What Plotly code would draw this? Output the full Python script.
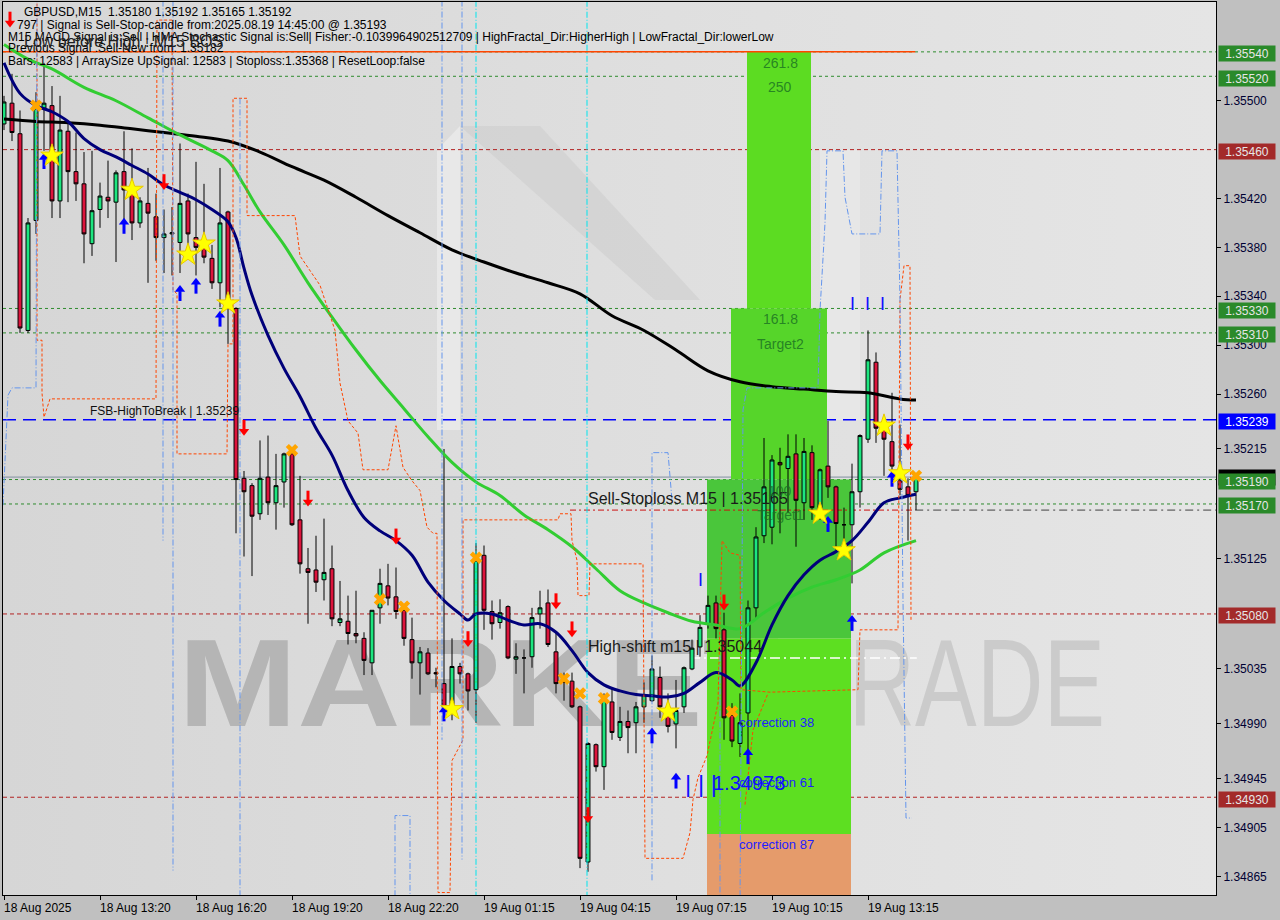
import base64
import plotly.graph_objects as go

# ---------------- data ----------------
TIME_LABELS = ["18 Aug 2025", "18 Aug 13:20", "18 Aug 16:20", "18 Aug 19:20", "18 Aug 22:20",
               "19 Aug 01:15", "19 Aug 04:15", "19 Aug 07:15", "19 Aug 10:15", "19 Aug 13:15"]
TIME_LABEL_BARS = [0, 12, 24, 36, 48, 60, 72, 84, 96, 108]

OPEN = [1.35481,1.35498,1.35473,1.35312,1.35402,1.35494,1.35496,1.35418,1.35475,1.35442,
        1.35432,1.35383,1.35411,1.35421,1.35417,1.35442,1.35427,1.35400,1.35416,1.35405,
        1.35388,1.35391,1.35384,1.35418,1.35388,1.35379,1.35371,1.35351,1.35409,1.35330,
        1.35191,1.35185,1.35162,1.35192,1.35171,1.35188,1.35211,1.35157,1.35117,1.35116,
        1.35108,1.35117,1.35073,1.35074,1.35064,1.35060,1.35040,1.35085,1.35103,1.35094,
        1.35083,1.35059,1.35040,1.35048,1.35032,1.35023,1.35003,1.35037,1.35031,1.35018,
        1.35128,1.35082,1.35073,1.35086,1.35043,1.35044,1.35045,1.35080,1.35089,1.35049,
        1.35029,1.35025,1.35004,1.34877,1.34973,1.34955,1.35008,1.34979,1.34992,1.34991,
        1.35004,1.35009,1.35028,1.35004,1.34990,1.35004,1.35035,1.35053,1.35072,1.35089,
        1.35067,1.34997,1.34974,1.34999,1.35085,1.35144,1.35151,1.35204,1.35199,1.35211,
        1.35171,1.35212,1.35165,1.35201,1.35184,1.35153,1.35153,1.35180,1.35223,1.35286,
        1.35234,1.35221,1.35189,1.35184,1.35180]
HIGH = [1.35504,1.35522,1.35492,1.35404,1.35507,1.35531,1.35512,1.35504,1.35484,1.35474,
        1.35458,1.35459,1.35433,1.35451,1.35443,1.35475,1.35461,1.35421,1.35445,1.35424,
        1.35411,1.35413,1.35465,1.35424,1.35450,1.35432,1.35382,1.35445,1.35410,1.35331,
        1.35197,1.35187,1.35222,1.35226,1.35211,1.35212,1.35212,1.35193,1.35134,1.35144,
        1.35158,1.35136,1.35107,1.35095,1.35099,1.35065,1.35083,1.35117,1.35121,1.35118,
        1.35088,1.35077,1.35053,1.35052,1.35036,1.35215,1.35060,1.35040,1.35032,1.35138,
        1.35136,1.35091,1.35092,1.35087,1.35056,1.35051,1.35085,1.35099,1.35100,1.35065,
        1.35032,1.35032,1.35005,1.34975,1.34974,1.35015,1.35020,1.35004,1.35001,1.35008,
        1.35024,1.35046,1.35037,1.35015,1.35026,1.35037,1.35059,1.35079,1.35095,1.35095,
        1.35081,1.35007,1.35015,1.35091,1.35151,1.35224,1.35210,1.35216,1.35227,1.35227,
        1.35224,1.35218,1.35199,1.35238,1.35185,1.35167,1.35203,1.35227,1.35312,1.35294,
        1.35240,1.35261,1.35235,1.35191,1.35192]
LOW = [1.35476,1.35467,1.35310,1.35310,1.35391,1.35459,1.35404,1.35404,1.35417,1.35418,
       1.35367,1.35373,1.35396,1.35404,1.35368,1.35402,1.35386,1.35396,1.35351,1.35369,
       1.35359,1.35357,1.35359,1.35382,1.35357,1.35367,1.35346,1.35331,1.35301,1.35146,
       1.35127,1.35111,1.35157,1.35161,1.35149,1.35167,1.35152,1.35113,1.35072,1.35098,
       1.35091,1.35070,1.35070,1.35055,1.35056,1.35030,1.35030,1.35072,1.35087,1.35076,
       1.35054,1.35027,1.35014,1.35030,1.35020,1.34995,1.34993,1.35023,1.35001,1.34991,
       1.35067,1.35059,1.35068,1.35043,1.35031,1.35015,1.35036,1.35068,1.35053,1.35015,
       1.35009,1.35003,1.34872,1.34869,1.34951,1.34936,1.34977,1.34976,1.34966,1.34966,
       1.34991,1.35008,1.34995,1.34983,1.34970,1.34999,1.35034,1.35045,1.35068,1.35060,
       1.34977,1.34971,1.34963,1.34966,1.35076,1.35138,1.35137,1.35146,1.35163,1.35135,
       1.35157,1.35157,1.35157,1.35175,1.35132,1.35132,1.35105,1.35167,1.35220,1.35220,
       1.35193,1.35193,1.35177,1.35140,1.35165]
CLOSE = [1.35499,1.35474,1.35314,1.35400,1.35494,1.35498,1.35418,1.35476,1.35442,1.35432,
         1.35391,1.35410,1.35422,1.35418,1.35441,1.35427,1.35400,1.35418,1.35408,1.35388,
         1.35391,1.35392,1.35416,1.35391,1.35380,1.35372,1.35351,1.35400,1.35337,1.35190,
         1.35180,1.35160,1.35191,1.35171,1.35185,1.35211,1.35153,1.35121,1.35114,1.35106,
         1.35114,1.35076,1.35076,1.35064,1.35062,1.35042,1.35083,1.35105,1.35093,1.35082,
         1.35060,1.35040,1.35049,1.35031,1.35031,1.35004,1.35037,1.35031,1.35017,1.35124,
         1.35083,1.35072,1.35081,1.35044,1.35045,1.35044,1.35077,1.35085,1.35055,1.35023,
         1.35024,1.35004,1.34880,1.34974,1.34955,1.35011,1.34983,1.34992,1.34987,1.35004,
         1.35014,1.35035,1.35004,1.34988,1.35001,1.35036,1.35052,1.35069,1.35087,1.35068,
         1.34995,1.34976,1.34991,1.35085,1.35143,1.35184,1.35206,1.35202,1.35209,1.35173,
         1.35213,1.35167,1.35198,1.35184,1.35154,1.35153,1.35180,1.35226,1.35288,1.35232,
         1.35223,1.35201,1.35182,1.35177,1.35192]

# moving averages (read at selected bars)
MA_SLOW_BARS = [0,4,8,12,16,20,24,28,32,36,40,44,48,52,56,60,64,68,72,76,80,84,88,92,96,100,104,108,112,114]
MA_SLOW = [1.35485,1.35483,1.35482,1.35480,1.35477,1.35474,1.35471,1.35467,1.35458,1.35446,
           1.35435,1.35421,1.35406,1.35392,1.35378,1.35368,1.35359,1.35351,1.35342,1.35324,
           1.35312,1.35296,1.35279,1.35270,1.35266,1.35264,1.35262,1.35261,1.35256,1.35255]
MA_FAST_BARS = [0,2,4,6,8,10,12,14,16,18,20,22,24,26,28,29,30,31,33,35,37,39,41,43,45,47,49,51,53,55,
                57,58,59,61,63,65,67,69,71,73,75,77,79,81,83,85,87,89,91,92,94,96,98,100,102,104,106,108,110,112,114]
MA_FAST = [1.35531,1.35506,1.35496,1.35491,1.35483,1.35469,1.35460,1.35454,1.35447,1.35440,
           1.35431,1.35425,1.35419,1.35411,1.35401,1.35388,1.35363,1.35341,1.35308,1.35281,
           1.35258,1.35232,1.35210,1.35181,1.35159,1.35148,1.35140,1.35128,1.35106,1.35091,
           1.35080,1.35075,1.35080,1.35080,1.35075,1.35071,1.35072,1.35065,1.35050,1.35032,
           1.35022,1.35017,1.35014,1.35013,1.35012,1.35015,1.35024,1.35032,1.35026,1.35021,
           1.35040,1.35071,1.35095,1.35112,1.35124,1.35131,1.35140,1.35155,1.35171,1.35175,1.35178]
MA_MID_BARS = [0,3,6,10,14,18,22,26,28,30,32,35,38,41,44,47,50,53,56,59,62,65,68,71,74,77,80,83,86,89,
               92,95,98,101,104,107,110,114]
MA_MID = [1.35546,1.35534,1.35526,1.35511,1.35500,1.35486,1.35472,1.35459,1.35451,1.35431,
          1.35409,1.35382,1.35351,1.35323,1.35296,1.35271,1.35248,1.35225,1.35204,1.35188,
          1.35177,1.35161,1.35149,1.35135,1.35117,1.35099,1.35089,1.35081,1.35074,1.35071,
          1.35068,1.35081,1.35093,1.35102,1.35108,1.35116,1.35130,1.35140]

# fractal channel (stepped dashed lines)
ORANGE_BARS = [4.125,4.125,4.75,4.75,5.0,5.75,19.0,19.125,21.0,21.125,21.625,21.625,27.875,28.0,28.625,28.625,
               30.375,30.375,36.375,37.0,39.5,41.375,42.0,43.0,44.25,44.875,48.0,49.0,49.875,51.0,52.0,52.875,
               53.625,54.125,54.25,55.75,56.0,57.375,57.375,59.25,69.25,69.5,70.875,71.0,71.625,71.75,73.125,
               73.25,79.875,80.125,84.875,85.75,86.125,86.75,87.875,89.25,89.75,90.75,92.0,92.125,95.75,
               106.75,107.0,111.75,112.0,112.5,113.25,113.375]
ORANGE_PRICES = [1.35600,1.35304,1.35304,1.35261,1.35241,1.35256,1.35256,1.35566,1.35566,1.35345,1.35342,
                 1.35211,1.35211,1.35301,1.35301,1.35502,1.35502,1.35406,1.35406,1.35373,1.35349,1.35312,
                 1.35269,1.35238,1.35228,1.35198,1.35198,1.35234,1.35200,1.35189,1.35181,1.35151,1.35146,
                 1.35146,1.34852,1.34852,1.34960,1.34977,1.35157,1.35157,1.35157,1.35162,1.35162,1.35140,
                 1.35124,1.35095,1.35095,1.35121,1.35121,1.34880,1.34880,1.34901,1.34928,1.34946,1.34964,
                 1.35007,1.35140,1.35130,1.35128,1.35018,1.35016,1.35018,1.35067,1.35067,1.35337,1.35365,
                 1.35365,1.35075]
ORANGE2_BARS = [92.625, 93.625, 95.5]
ORANGE2_PRICES = [1.34924, 1.34985, 1.35015]

BLUE_BARS = [-0.125,0.5,1.0,4.0,4.125,None,19.875,19.875,None,21.125,21.125,None,29.5,29.5,None,
             48.875,48.875,50.75,50.75,None,54.75,54.75,None,57.25,57.25,None,81,81,83,83.5,None,89.5,89.5,None,
             92,92.375,92.875,101.75,102,102.375,102.625,102.875,104.875,105.125,106,109.5,109.75,111.625,
             112,112.375,112.75,113.5]
BLUE_PRICES = [1.35169,1.35259,1.35265,1.35265,1.35600,None,1.35600,1.35140,None,1.35600,1.34870,None,
               1.35502,1.34840,None,1.34840,1.34915,1.34915,1.34840,None,1.35600,1.34977,None,1.35600,1.34879,
               None,1.34862,1.35212,1.35212,1.35173,None,1.35046,1.34840,None,
               1.34840,1.35247,1.35265,1.35265,1.35328,1.35375,1.35400,1.35459,1.35459,1.35421,1.35391,
               1.35391,1.35459,1.35459,1.35337,1.35091,1.34913,1.34913]
CYAN_BARS = [59.0, 72.875]

# signals
UP_ARROW_BARS = [5, 15, 22, 24, 27, 55, 81, 84, 93, 103, 106, 111]
UP_ARROW_PRICES = [1.35451, 1.35398, 1.35343, 1.35349, 1.35322, 1.34999, 1.34981, 1.34944, 1.34964, 1.35154, 1.35073, 1.35191]
DOWN_ARROW_BARS = [0.75, 20, 30, 38, 49, 58, 69, 71, 73, 90, 113]
DOWN_ARROW_PRICES = [1.35566, 1.35433, 1.35232, 1.35174, 1.35143, 1.35059, 1.35090, 1.35067, 1.34915, 1.35089, 1.35220]
STAR_BARS = [6, 16, 23, 25, 28, 56, 83, 102, 105, 110, 112]
STAR_PRICES = [1.35455, 1.35427, 1.35374, 1.35383, 1.35334, 1.35002, 1.35000, 1.35162, 1.35132, 1.35234, 1.35195]
CROSS_BARS = [4, 36, 47, 50, 59, 70, 72, 75, 91, 114]
CROSS_PRICES = [1.35496, 1.35214, 1.35092, 1.35086, 1.35126, 1.35027, 1.35015, 1.35011, 1.35000, 1.35193]

# levels
PRICE_TICKS = [1.35500, 1.35420, 1.35380, 1.35340, 1.35300, 1.35260, 1.35215,
               1.35125, 1.35035, 1.34990, 1.34945, 1.34905, 1.34865]
GREEN_LEVELS = [1.35540, 1.35520, 1.35330, 1.35310, 1.35190, 1.35170]
RED_LEVELS = [1.35460, 1.35080, 1.34930]
FSB_LEVEL = 1.35239
BID = 1.35192
STOP_LINE = 1.35540
SELL_SL = 1.35165
HIGH_SHIFT = 1.35044
LOW_MARK = 1.34973
# fib zones: (start bar, end bar, top price, bottom price)
ZONES = [(92.875, 100.875, 1.35540, 1.35330, "#5cdc22"),
         (90.875, 102.875, 1.35330, 1.35190, "#56d52a"),
         (87.875, 105.875, 1.35190, 1.35060, "#4ac63b"),
         (87.875, 105.875, 1.35060, 1.34900, "#5ddf21"),
         (87.875, 105.875, 1.34900, 1.34800, "#e59b6b")]
FIB_LABELS = [("261.8", 1.35540), ("250", 1.35520), ("161.8", 1.35330), ("Target2", 1.35310),
              ("100", 1.35190), ("Target1", 1.35170)]
CORR_LABELS = [("correction 38", 1.35000), ("correction 61", 1.34951), ("correction 87", 1.34900)]

HEADER = [
    ("GBPUSD,M15  1.35180 1.35192 1.35165 1.35192", 22, 12),
    ("797 | Signal is Sell-Stop-candle from:2025.08.19 14:45:00 @ 1.35193", 15, 25),
    ("M15 MACD Signal is:Sell | HMA Stochastic Signal is:Sell| Fisher:-0.1039964902512709 | HighFractal_Dir:HigherHigh | LowFractal_Dir:lowerLow", 6, 37),
    ("Previous Signal :Sell-New from: 1.35182", 6, 48),
    ("Bars: 12583 | ArraySize UpSignal: 12583 | Stoploss:1.35368 | ResetLoop:false", 6, 61),
]

# ---------------- geometry helpers (for text / decoration only) ----------------
W, H = 1280, 920
PL, PT, PR, PB = 3, 2, 1216, 895
PW, PH = PR - PL, PB - PT
Y0, Y1 = 1.348500, 1.355808
X0, X1 = -0.125, 151.5
PX = (Y1 - Y0) / PH   # price per pixel


def fx(x):
    return (x - PL) / PW


def fy(y):
    return 1 - (y - PT) / PH


FONT = "Liberation Sans"

# ---------------- background image (gradient + watermark) ----------------
svg = (
    f'<svg xmlns="http://www.w3.org/2000/svg" width="{PW}" height="{PH}" viewBox="{PL} {PT} {PW} {PH}">'
    '<defs><linearGradient id="g" x1="0" y1="0" x2="1" y2="0">'
    '<stop offset="0" stop-color="#d6d6d6"/><stop offset="0.55" stop-color="#dfdfdf"/>'
    '<stop offset="1" stop-color="#e5e5e5"/></linearGradient></defs>'
    f'<rect x="{PL}" y="{PT}" width="{PW}" height="{PH}" fill="url(#g)"/>'
    '<polygon points="437,150 460,126 460,430 437,430" fill="#ececec" opacity="0.7"/>'
    '<polygon points="460,126 540,126 700,300 655,300" fill="#cccccc" opacity="0.55"/>'
    '<polygon points="820,150 860,150 860,420 820,420" fill="#ebebeb" opacity="0.6"/>'
    '<text x="178" y="726" font-family="Liberation Sans, Arial" font-weight="bold" font-size="124" '
    'fill="#b5b5b5" textLength="612" lengthAdjust="spacingAndGlyphs">MARKET</text>'
    '<text x="792" y="726" font-family="Liberation Sans, Arial" font-size="124" '
    'fill="#cbcbcb" textLength="313" lengthAdjust="spacingAndGlyphs">TRADE</text>'
    '</svg>'
)
bg_src = "data:image/svg+xml;base64," + base64.b64encode(svg.encode()).decode()

fig = go.Figure()

# candles
fig.add_trace(go.Candlestick(
    x=list(range(len(OPEN))), open=OPEN, high=HIGH, low=LOW, close=CLOSE,
    increasing=dict(line=dict(color="black", width=1), fillcolor="#1de57f"),
    decreasing=dict(line=dict(color="black", width=1), fillcolor="#dc143c"),
    whiskerwidth=0, hoverinfo="skip", showlegend=False))

# moving averages
fig.add_trace(go.Scatter(x=MA_SLOW_BARS, y=MA_SLOW, mode="lines", line=dict(color="black", width=3, shape="spline"), hoverinfo="skip"))
fig.add_trace(go.Scatter(x=MA_MID_BARS, y=MA_MID, mode="lines", line=dict(color="#32cd32", width=3, shape="spline"), hoverinfo="skip"))
fig.add_trace(go.Scatter(x=MA_FAST_BARS, y=MA_FAST, mode="lines", line=dict(color="#00007a", width=3, shape="spline"), hoverinfo="skip"))

# fractal channel lines
fig.add_trace(go.Scatter(x=ORANGE_BARS, y=ORANGE_PRICES, mode="lines", line=dict(color="#ff4500", width=1, dash="3px,2px"), hoverinfo="skip"))
fig.add_trace(go.Scatter(x=ORANGE2_BARS, y=ORANGE2_PRICES, mode="lines", line=dict(color="#ff4500", width=1, dash="3px,2px"), hoverinfo="skip"))
fig.add_trace(go.Scatter(x=BLUE_BARS, y=BLUE_PRICES, mode="lines", connectgaps=False,
                         line=dict(color="#6495ed", width=1, dash="6px,2px,1px,2px"), hoverinfo="skip"))
for cb in CYAN_BARS:
    fig.add_trace(go.Scatter(x=[cb, cb], y=[Y1 + 0.0001, Y0 - 0.0001], mode="lines",
                             line=dict(color="#00e5ee", width=1, dash="6px,2px,1px,2px"), hoverinfo="skip"))

# signals: arrows (head + stem), stars, crosses
fig.add_trace(go.Scatter(x=UP_ARROW_BARS, y=[p + 3 * PX for p in UP_ARROW_PRICES], mode="markers",
                         marker=dict(symbol="triangle-up", size=9, color="#0000ff"), hoverinfo="skip"))
fig.add_trace(go.Scatter(x=UP_ARROW_BARS, y=[p - 3.5 * PX for p in UP_ARROW_PRICES], mode="markers",
                         marker=dict(symbol="line-ns", size=7, line=dict(color="#0000ff", width=3)), hoverinfo="skip"))
fig.add_trace(go.Scatter(x=DOWN_ARROW_BARS, y=[p - 3 * PX for p in DOWN_ARROW_PRICES], mode="markers",
                         marker=dict(symbol="triangle-down", size=9, color="#ff0000"), hoverinfo="skip"))
fig.add_trace(go.Scatter(x=DOWN_ARROW_BARS, y=[p + 3.5 * PX for p in DOWN_ARROW_PRICES], mode="markers",
                         marker=dict(symbol="line-ns", size=7, line=dict(color="#ff0000", width=3)), hoverinfo="skip"))
fig.add_trace(go.Scatter(x=STAR_BARS, y=STAR_PRICES, mode="markers",
                         marker=dict(symbol="star", size=17, color="#ffff00", line=dict(color="#e8c800", width=1)), hoverinfo="skip"))
fig.add_trace(go.Scatter(x=CROSS_BARS, y=CROSS_PRICES, mode="markers",
                         marker=dict(symbol="x", size=11, color="#ffa500", line=dict(width=0)), hoverinfo="skip"))

# ---------------- shapes ----------------
shapes = []
for b0, b1, p0, p1, col in ZONES:
    shapes.append(dict(type="rect", xref="x", yref="y", x0=b0, x1=b1, y0=p1, y1=p0,
                       fillcolor=col, line=dict(width=0), layer="below"))
# watermark letters seen over the zones
shapes.append(dict(type="rect", xref="paper", yref="paper", x0=fx(707), x1=fx(778), y0=fy(661), y1=fy(638),
                   fillcolor="#c6c6c6", line=dict(width=0), layer="below"))
shapes.append(dict(type="rect", xref="paper", yref="paper", x0=fx(737), x1=fx(778), y0=fy(724), y1=fy(661),
                   fillcolor="#8593a3", line=dict(width=0), layer="below"))
for lv in GREEN_LEVELS:
    shapes.append(dict(type="line", xref="paper", yref="y", x0=0, x1=1, y0=lv, y1=lv,
                       line=dict(color="#2e8b2e", width=1, dash="3px,3px"), layer="below"))
for lv in RED_LEVELS:
    shapes.append(dict(type="line", xref="paper", yref="y", x0=0, x1=1, y0=lv, y1=lv,
                       line=dict(color="#b22222", width=1, dash="4px,3px"), layer="below"))
shapes.append(dict(type="line", xref="paper", yref="y", x0=0, x1=1, y0=BID, y1=BID,
                   line=dict(color="#8090a0", width=1), layer="below"))
shapes.append(dict(type="line", xref="paper", yref="y", x0=0, x1=1, y0=FSB_LEVEL, y1=FSB_LEVEL,
                   line=dict(color="#0000ff", width=1.5, dash="13px,7px"), layer="below"))
shapes.append(dict(type="line", xref="x", yref="y", x0=X0, x1=113.9, y0=STOP_LINE, y1=STOP_LINE,
                   line=dict(color="#ff4500", width=1.5), layer="below"))
shapes.append(dict(type="line", xref="x", yref="y", x0=70.75, x1=113.9, y0=SELL_SL, y1=SELL_SL,
                   line=dict(color="#cc1111", width=1, dash="6px,3px,2px,3px"), layer="below"))
shapes.append(dict(type="line", xref="x", yref="y", x0=113.9, x1=X1, y0=SELL_SL, y1=SELL_SL,
                   line=dict(color="#404040", width=1, dash="8px,4px,2px,4px"), layer="below"))
shapes.append(dict(type="line", xref="x", yref="y", x0=85.75, x1=114.1, y0=HIGH_SHIFT, y1=HIGH_SHIFT,
                   line=dict(color="#ffffff", width=1.5, dash="10px,4px,2px,4px"), layer="below"))

# ---------------- annotations ----------------
ann = []


def T(text, x, y, size=12, color="#000000", family=FONT, xanchor="left", yanchor="middle",
      xref="paper", yref="paper", **kw):
    d = dict(text=text, x=x, y=y, xref=xref, yref=yref, xanchor=xanchor, yanchor=yanchor,
             showarrow=False, font=dict(size=size, color=color, family=family))
    d.update(kw)
    ann.append(d)


for text, x, y in HEADER:
    T(text, fx(x), fy(y), size=12)
T("Low before High : M15 BOS", fx(22), fy(41), size=16, color="#202020")

T("FSB-HighToBreak | %.5f" % FSB_LEVEL, 10.5, FSB_LEVEL, size=12, color="#101010",
  xref="x", yref="y", yanchor="bottom", yshift=0)
T("Sell-Stoploss M15 | %.5f" % SELL_SL, 72.75, SELL_SL, size=16, color="#1a1a1a",
  xref="x", yref="y", yanchor="bottom", yshift=1)
T("High-shift m15 | %.5f" % HIGH_SHIFT, 72.75, HIGH_SHIFT, size=16, color="#1a1a1a",
  xref="x", yref="y", yanchor="bottom", yshift=1)

for lab, lv in FIB_LABELS:
    T(lab, 97.0, lv, size=14, color="rgba(25,110,35,0.8)", xref="x", yref="y",
      xanchor="center", yanchor="top", yshift=-1)
for lab, lv in CORR_LABELS:
    T(lab, 91.6, lv, size=13, color="#1e1eff", xref="x", yref="y", yanchor="top", yshift=-1)

T("I", fx(700), fy(580), size=18, color="#1010ff", family=FONT, xanchor="center")
T("I  I  I", fx(867), fy(304), size=18, color="#1010ff", xanchor="center")
T("| | |", fx(683), fy(783), size=24, color="#1010ff", xanchor="left")
T("%.5f" % LOW_MARK, fx(711), fy(783), size=20, color="#1010ff", xanchor="left")

# x-axis labels (left aligned to tick like the terminal)
for b, lab in zip(TIME_LABEL_BARS, TIME_LABELS):
    T(lab, b, 0, size=12, xref="x", yref="paper", yanchor="top", yshift=-4, xshift=-2)

# right-axis price tags
ann.append(dict(text="%.5f" % BID, x=1, y=BID, xref="paper", yref="y", xanchor="left", yanchor="middle",
                xshift=2, yshift=0, showarrow=False, bgcolor="#000000", width=54, height=13, borderpad=1,
                font=dict(size=12, color="#000000", family=FONT)))
for lv in GREEN_LEVELS + RED_LEVELS + [FSB_LEVEL]:
    if lv == FSB_LEVEL:
        bg, fc = "#0000ff", "#ffffff"
    elif lv in GREEN_LEVELS:
        bg, fc = "#2a8a2a", "#e6e6e6"
    else:
        bg, fc = "#a32a2a", "#e6e6e6"
    ann.append(dict(text="%.5f" % lv, x=1, y=lv, xref="paper", yref="y", xanchor="left", yanchor="middle",
                    xshift=2, yshift=-2, showarrow=False, bgcolor=bg, width=54, height=13, borderpad=1,
                    font=dict(size=12, color=fc, family=FONT)))

fig.update_layout(
    width=W, height=H,
    margin=dict(l=PL, r=W - PR, t=PT, b=H - PB),
    paper_bgcolor="#c0c0c0", plot_bgcolor="#dcdcdc",
    showlegend=False,
    shapes=shapes, annotations=ann,
    images=[dict(source=bg_src, xref="paper", yref="paper", x=0, y=1, sizex=1, sizey=1,
                 xanchor="left", yanchor="top", sizing="stretch", layer="below")],
    xaxis=dict(range=[X0, X1], showgrid=False, zeroline=False, rangeslider=dict(visible=False),
               tickvals=TIME_LABEL_BARS, ticktext=[""] * len(TIME_LABEL_BARS), ticks="outside",
               ticklen=4, tickcolor="black", showline=True, mirror=True, linecolor="black", linewidth=1,
               fixedrange=True),
    yaxis=dict(range=[Y0, Y1], side="right", showgrid=False, zeroline=False,
               tickvals=PRICE_TICKS, ticktext=["%.5f" % v for v in PRICE_TICKS], ticks="outside",
               ticklen=4, tickcolor="black", tickfont=dict(size=12, color="#000033", family=FONT),
               showline=True, mirror=True, linecolor="black", linewidth=1, fixedrange=True),
)

fig.write_html("out.html", config={"displayModeBar": False},
               post_script="document.body.style.margin='0';document.body.style.background='#c0c0c0';")
